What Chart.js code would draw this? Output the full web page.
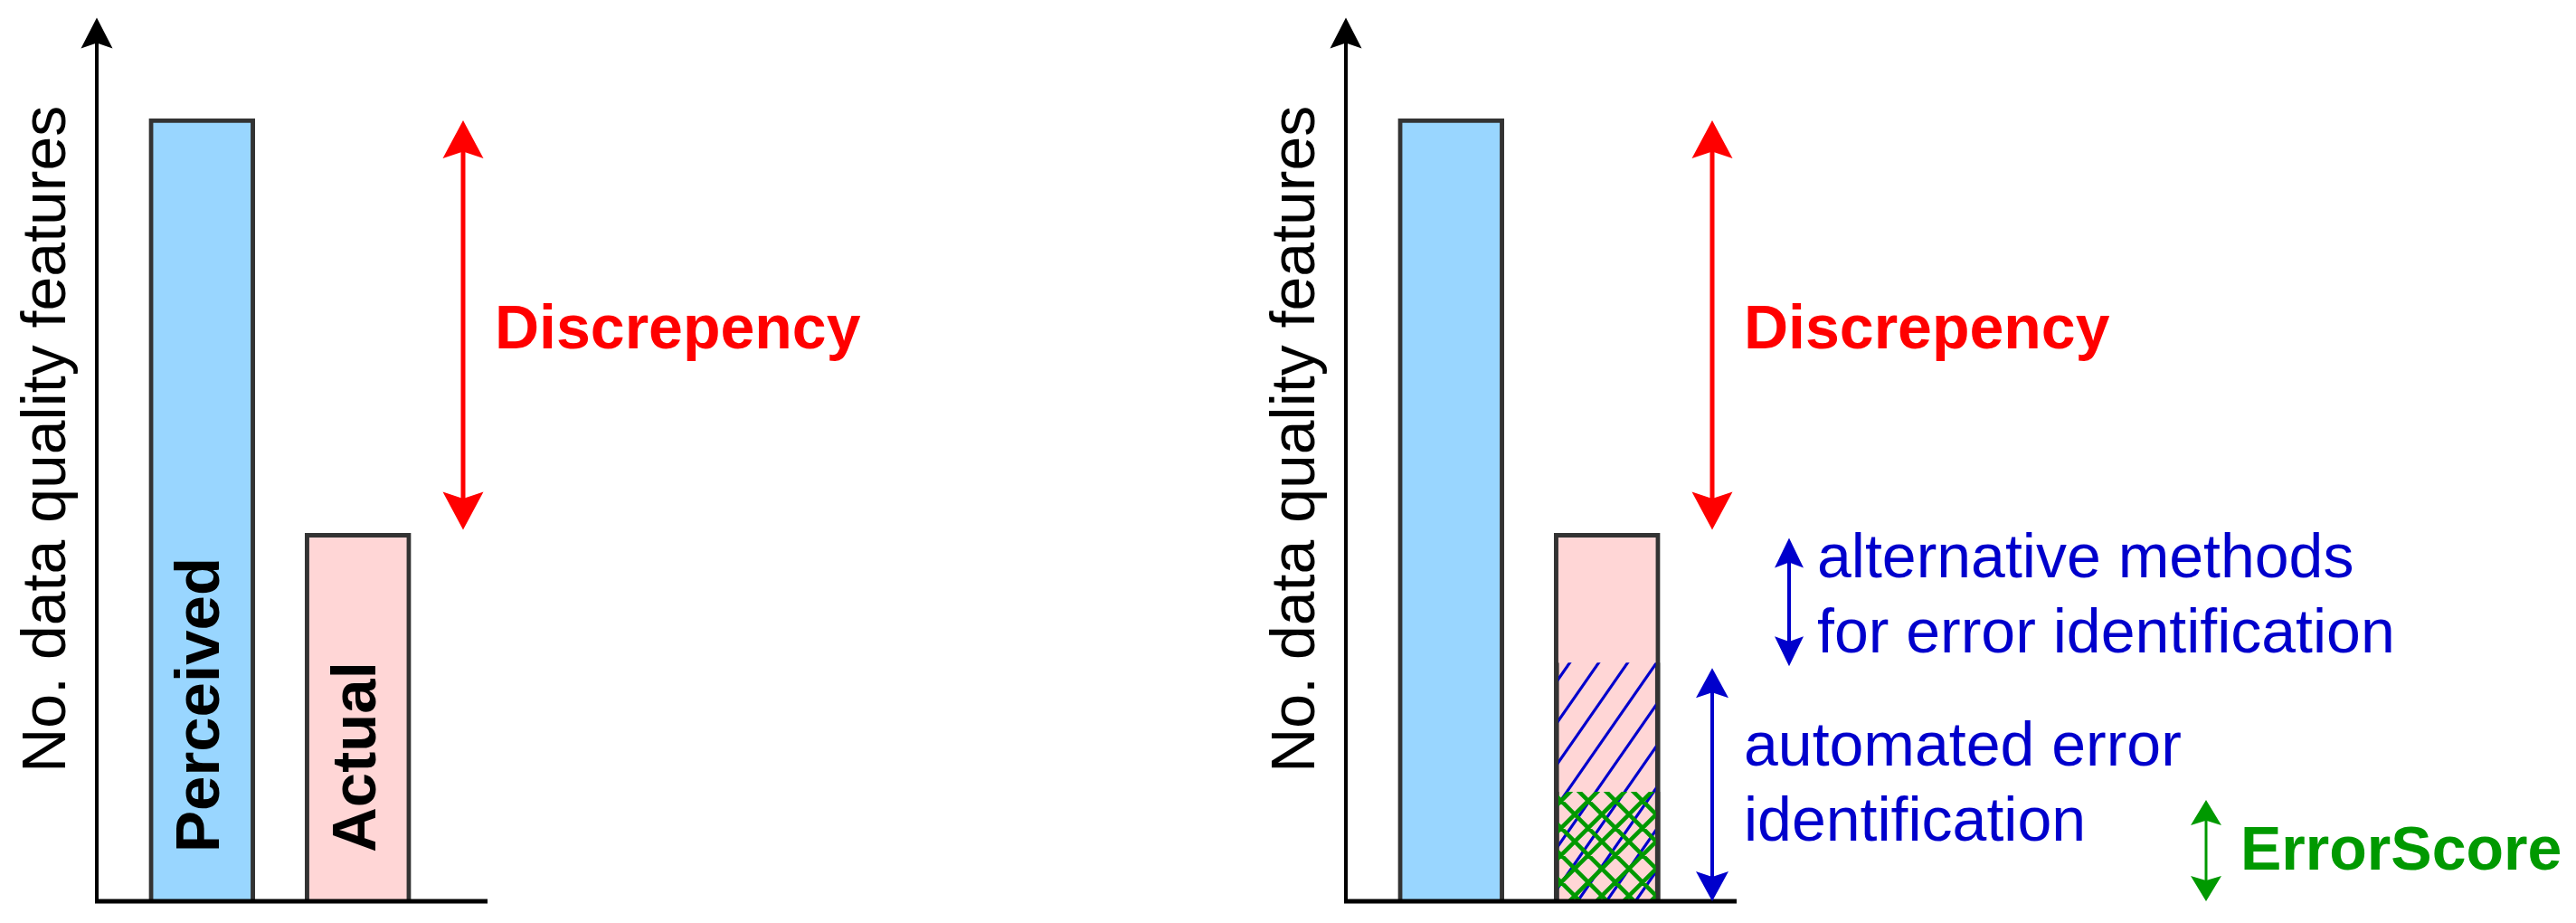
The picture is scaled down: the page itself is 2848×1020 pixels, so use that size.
<!DOCTYPE html>
<html>
<head>
<meta charset="utf-8">
<script src="https://cdn.jsdelivr.net/npm/chart.js@4.4.1/dist/chart.umd.min.js"></script>
<style>
  html, body { margin: 0; padding: 0; background: #fff; }
  #page { position: relative; width: 2848px; height: 1020px; }
  .panel { position: absolute; top: 0; height: 1020px; }
  #left-panel { left: 0; width: 1381px; }
  #right-panel { left: 1381px; width: 1467px; }
</style>
</head>
<body>
<div id="page">
  <div class="panel" id="left-panel"><canvas id="chart-left"></canvas></div>
  <div class="panel" id="right-panel"><canvas id="chart-right"></canvas></div>
</div>
<script>
// ---- data ----
const categories = ['Perceived', 'Actual'];
const featureCounts = [100, 47];        // bar heights
const automatedCounts = [null, 30.5];   // part found by automated identification
const errorScoreCounts = [null, 14];    // part found by ErrorScore
const yMax = 110;

const yTitle = 'No. data quality features';
const gapLabel = 'Discrepency';
const altLabel = ['alternative methods', 'for error identification'];
const autoLabel = ['automated error', 'identification'];
const scoreLabel = 'ErrorScore';

// ---- colours / fonts ----
const FONT = '"Liberation Sans", Arial, Helvetica, sans-serif';
const BLUE_FILL = '#99D6FF';
const PINK_FILL = '#FFD6D6';
const EDGE = '#333333';
const RED = '#FF0000';
const BLUE = '#0000CC';
const GREEN = '#009900';

function makeHatch(w, h, color, lw, cross) {
  const c = document.createElement('canvas');
  c.width = w; c.height = h;
  const g = c.getContext('2d');
  g.strokeStyle = color; g.lineWidth = lw; g.lineCap = 'round';
  g.beginPath();
  for (const k of [-w, 0, w]) {
    g.moveTo(k, h); g.lineTo(k + w, 0);
    if (cross) { g.moveTo(k, 0); g.lineTo(k + w, h); }
  }
  g.stroke();
  return g.createPattern(c, 'repeat');
}

// one arrow head, tip at (x, y), dir = -1 points up, +1 points down
function arrowHead(ctx, x, y, dir, w, len) {
  ctx.beginPath();
  ctx.moveTo(x, y);
  ctx.lineTo(x - w / 2, y - dir * len);
  ctx.lineTo(x, y - dir * len * 0.82);
  ctx.lineTo(x + w / 2, y - dir * len);
  ctx.closePath();
  ctx.fill();
}

function doubleArrow(ctx, x, y1, y2, color, lw, w, len) {
  ctx.save();
  ctx.strokeStyle = color; ctx.fillStyle = color; ctx.lineWidth = lw;
  ctx.beginPath();
  ctx.moveTo(x, y1 + len * 0.8);
  ctx.lineTo(x, y2 - len * 0.8);
  ctx.stroke();
  arrowHead(ctx, x, y1, -1, w, len);
  arrowHead(ctx, x, y2, 1, w, len);
  ctx.restore();
}

// axes, y title, discrepancy arrow -- shared by both panels
const frame = {
  id: 'frame',
  afterDatasetsDraw(chart) {
    const { ctx, chartArea: a, scales: { y } } = chart;
    const x0 = a.left - 30, y0 = y.getPixelForValue(0);
    ctx.save();
    ctx.strokeStyle = '#000'; ctx.fillStyle = '#000';
    ctx.lineWidth = 4;
    ctx.beginPath(); ctx.moveTo(x0, y0); ctx.lineTo(x0, a.top - 5); ctx.stroke();
    arrowHead(ctx, x0, a.top - 25, -1, 35, 34);
    ctx.lineWidth = 5;
    ctx.beginPath(); ctx.moveTo(x0 - 2, y0); ctx.lineTo(a.right + 57, y0); ctx.stroke();

    ctx.font = '68px ' + FONT;
    ctx.textAlign = 'center'; ctx.textBaseline = 'alphabetic';
    ctx.translate(a.left - 65, (a.top + a.bottom) / 2 - 35);
    ctx.rotate(-Math.PI / 2);
    ctx.fillText(yTitle, 0, 0);
    ctx.restore();

    const top = y.getPixelForValue(featureCounts[0]);
    const bot = y.getPixelForValue(featureCounts[1]);
    const ax = a.right + 30;
    doubleArrow(ctx, ax, top + 2, bot - 4, RED, 5, 45, 42);
    ctx.save();
    ctx.fillStyle = RED;
    ctx.font = 'bold 68px ' + FONT;
    ctx.textAlign = 'left'; ctx.textBaseline = 'alphabetic';
    ctx.fillText(gapLabel, a.right + 65, (top + bot) / 2 + 25);
    ctx.restore();
  }
};

// rotated names inside the left bars
const barNames = {
  id: 'barNames',
  afterDatasetsDraw(chart) {
    const { ctx, scales: { y } } = chart;
    const meta = chart.getDatasetMeta(0);
    ctx.save();
    ctx.fillStyle = '#000';
    ctx.font = 'bold 69px ' + FONT;
    ctx.textAlign = 'left'; ctx.textBaseline = 'alphabetic';
    meta.data.forEach((bar, i) => {
      ctx.save();
      ctx.translate(bar.x + 19, y.getPixelForValue(0) - 54);
      ctx.rotate(-Math.PI / 2);
      ctx.fillText(categories[i], 0, 0);
      ctx.restore();
    });
    ctx.restore();
  }
};

// error-identification annotations on the right panel
const errorNotes = {
  id: 'errorNotes',
  afterDatasetsDraw(chart) {
    const { ctx, chartArea: a, scales: { y } } = chart;
    const pActual = y.getPixelForValue(featureCounts[1]);
    const pAuto = y.getPixelForValue(automatedCounts[1]);
    const pScore = y.getPixelForValue(errorScoreCounts[1]);
    const p0 = y.getPixelForValue(0);

    // alternative methods
    const x1 = a.right + 115;
    doubleArrow(ctx, x1, pActual + 5, pAuto + 4, BLUE, 4, 32, 33);
    // automated
    const x2 = a.right + 30;
    doubleArrow(ctx, x2, pAuto + 6, p0, BLUE, 4, 36, 33);
    // ErrorScore
    const x3 = a.right + 576;
    doubleArrow(ctx, x3, pScore + 9, p0, GREEN, 3, 34, 28);

    ctx.save();
    ctx.textAlign = 'left'; ctx.textBaseline = 'alphabetic';
    ctx.font = '68px ' + FONT;
    ctx.fillStyle = BLUE;
    const m1 = (pActual + 5 + pAuto + 4) / 2;
    ctx.fillText(altLabel[0], x1 + 31, m1 - 27);
    ctx.fillText(altLabel[1], x1 + 31, m1 + 56);
    const m2 = (pAuto + 6 + p0) / 2;
    ctx.fillText(autoLabel[0], x2 + 35, m2 - 21);
    ctx.fillText(autoLabel[1], x2 + 35, m2 + 62);
    ctx.font = 'bold 68px ' + FONT;
    ctx.fillStyle = GREEN;
    ctx.fillText(scoreLabel, x3 + 38, (pScore + 9 + p0) / 2 + 21);
    ctx.restore();
  }
};

function baseOptions(panelWidth) {
  return {
    responsive: true,
    maintainAspectRatio: false,
    animation: false,
    events: [],
    layout: { padding: { left: 137, right: panelWidth - 482, top: 44.5, bottom: 24 } },
    plugins: { legend: { display: false }, tooltip: { enabled: false } },
    scales: {
      x: { display: false, stacked: true, offset: true },
      y: { display: false, stacked: false, min: 0, max: yMax }
    }
  };
}

const mainBars = {
  data: featureCounts,
  backgroundColor: [BLUE_FILL, PINK_FILL],
  borderColor: EDGE,
  borderWidth: 5,
  barThickness: 117,
  order: 3
};

new Chart(document.getElementById('chart-left'), {
  type: 'bar',
  data: { labels: categories, datasets: [Object.assign({}, mainBars)] },
  options: baseOptions(1381),
  plugins: [frame, barNames]
});

new Chart(document.getElementById('chart-right'), {
  type: 'bar',
  data: {
    labels: categories,
    datasets: [
      Object.assign({}, mainBars),
      {
        data: automatedCounts,
        backgroundColor: makeHatch(32, 46, BLUE, 3.2, false),
        borderColor: EDGE,
        borderWidth: { left: 5, right: 5, top: 0, bottom: 0 },
        barThickness: 117,
        order: 2
      },
      {
        data: errorScoreCounts,
        backgroundColor: makeHatch(30, 30, GREEN, 4.5, true),
        borderColor: EDGE,
        borderWidth: { left: 5, right: 5, top: 0, bottom: 0 },
        barThickness: 117,
        order: 1
      }
    ]
  },
  options: baseOptions(1467),
  plugins: [frame, errorNotes]
});
</script>
</body>
</html>
